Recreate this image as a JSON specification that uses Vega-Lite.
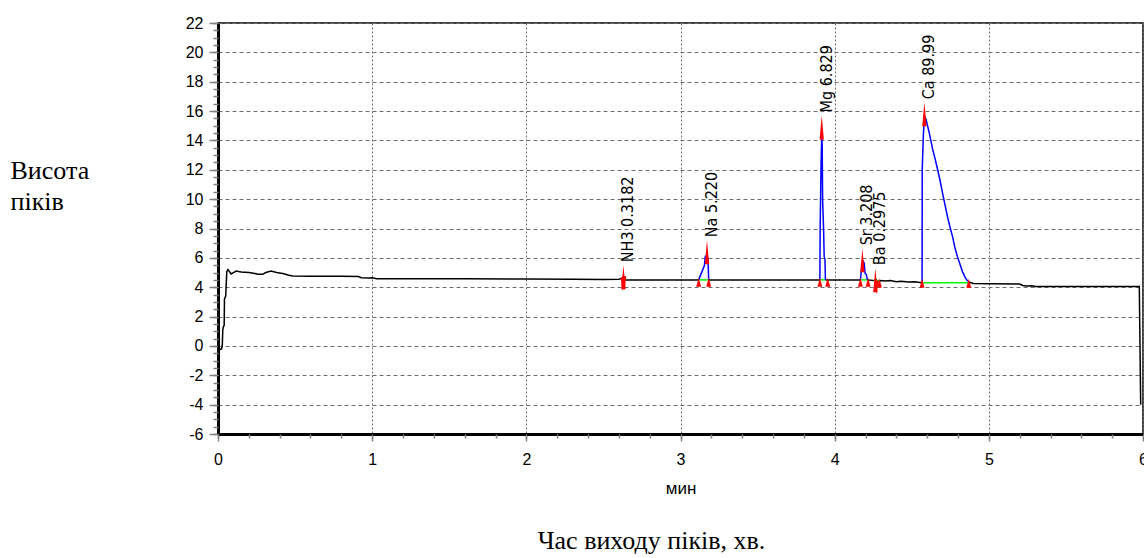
{
  "$schema": "https://vega.github.io/schema/vega-lite/v6.json",
  "width": 925,
  "height": 411,
  "autosize": {"type": "none"},
  "padding": {"left": 218, "top": 23, "right": 1, "bottom": 124},
  "background": "white",
  "config": {
    "view": {"stroke": "black", "strokeWidth": 1.5},
    "axis": {"labelFont": "Liberation Sans", "titleFont": "Liberation Sans", "labelColor": "black", "titleColor": "black"}
  },
  "title": {"text": "Час виходу піків, хв.", "orient": "bottom", "anchor": "middle", "frame": "group", "offset": 32, "dx": -29, "font": "Liberation Serif", "fontSize": 26, "fontWeight": "normal", "color": "black"},
  "datasets": {
    "trace": [
      {"seg": "b0", "kind": "base", "t": 0, "v": 0.05},
      {"seg": "b0", "kind": "base", "t": 0.008, "v": -0.15},
      {"seg": "b0", "kind": "base", "t": 0.016, "v": -0.25},
      {"seg": "b0", "kind": "base", "t": 0.024, "v": -0.2},
      {"seg": "b0", "kind": "base", "t": 0.028, "v": 0.1},
      {"seg": "b0", "kind": "base", "t": 0.031, "v": 1.1},
      {"seg": "b0", "kind": "base", "t": 0.035, "v": 1.3},
      {"seg": "b0", "kind": "base", "t": 0.04, "v": 1.4},
      {"seg": "b0", "kind": "base", "t": 0.042, "v": 3.2},
      {"seg": "b0", "kind": "base", "t": 0.05, "v": 3.4},
      {"seg": "b0", "kind": "base", "t": 0.057, "v": 5.05},
      {"seg": "b0", "kind": "base", "t": 0.064, "v": 5.2},
      {"seg": "b0", "kind": "base", "t": 0.072, "v": 5.1},
      {"seg": "b0", "kind": "base", "t": 0.085, "v": 4.9},
      {"seg": "b0", "kind": "base", "t": 0.1, "v": 5.0},
      {"seg": "b0", "kind": "base", "t": 0.118, "v": 5.1},
      {"seg": "b0", "kind": "base", "t": 0.15, "v": 5.03},
      {"seg": "b0", "kind": "base", "t": 0.2, "v": 5.0},
      {"seg": "b0", "kind": "base", "t": 0.23, "v": 4.95},
      {"seg": "b0", "kind": "base", "t": 0.26, "v": 4.88},
      {"seg": "b0", "kind": "base", "t": 0.29, "v": 4.88},
      {"seg": "b0", "kind": "base", "t": 0.31, "v": 5.0},
      {"seg": "b0", "kind": "base", "t": 0.345, "v": 5.1},
      {"seg": "b0", "kind": "base", "t": 0.38, "v": 5.0},
      {"seg": "b0", "kind": "base", "t": 0.42, "v": 4.93},
      {"seg": "b0", "kind": "base", "t": 0.46, "v": 4.82},
      {"seg": "b0", "kind": "base", "t": 0.485, "v": 4.77},
      {"seg": "b0", "kind": "base", "t": 0.6, "v": 4.75},
      {"seg": "b0", "kind": "base", "t": 0.8, "v": 4.74},
      {"seg": "b0", "kind": "base", "t": 0.91, "v": 4.73},
      {"seg": "b0", "kind": "base", "t": 0.93, "v": 4.65},
      {"seg": "b0", "kind": "base", "t": 0.98, "v": 4.62},
      {"seg": "b0", "kind": "base", "t": 1.0, "v": 4.65},
      {"seg": "b0", "kind": "base", "t": 1.03, "v": 4.58},
      {"seg": "b0", "kind": "base", "t": 1.3, "v": 4.58},
      {"seg": "b0", "kind": "base", "t": 1.6, "v": 4.57},
      {"seg": "b0", "kind": "base", "t": 2.0, "v": 4.56},
      {"seg": "b0", "kind": "base", "t": 2.3, "v": 4.55},
      {"seg": "b0", "kind": "base", "t": 2.5, "v": 4.52},
      {"seg": "b0", "kind": "base", "t": 2.6, "v": 4.55},
      {"seg": "b0", "kind": "base", "t": 2.62, "v": 4.6},
      {"seg": "b0", "kind": "base", "t": 2.63, "v": 4.75},
      {"seg": "b0", "kind": "base", "t": 2.64, "v": 4.5},
      {"seg": "b0", "kind": "base", "t": 2.66, "v": 4.5},
      {"seg": "b0", "kind": "base", "t": 2.9, "v": 4.5},
      {"seg": "b0", "kind": "base", "t": 3.118, "v": 4.5},
      {"seg": "pNa", "kind": "peak", "t": 3.118, "v": 4.5},
      {"seg": "pNa", "kind": "peak", "t": 3.14, "v": 5.08},
      {"seg": "pNa", "kind": "peak", "t": 3.155, "v": 5.47},
      {"seg": "pNa", "kind": "peak", "t": 3.161, "v": 6.1},
      {"seg": "pNa", "kind": "peak", "t": 3.172, "v": 6.2},
      {"seg": "pNa", "kind": "peak", "t": 3.178, "v": 5.9},
      {"seg": "pNa", "kind": "peak", "t": 3.183, "v": 4.5},
      {"seg": "b1", "kind": "base", "t": 3.183, "v": 4.5},
      {"seg": "b1", "kind": "base", "t": 3.5, "v": 4.5},
      {"seg": "b1", "kind": "base", "t": 3.904, "v": 4.5},
      {"seg": "pMg", "kind": "peak", "t": 3.904, "v": 4.5},
      {"seg": "pMg", "kind": "peak", "t": 3.906, "v": 8.1},
      {"seg": "pMg", "kind": "peak", "t": 3.912, "v": 12.5},
      {"seg": "pMg", "kind": "peak", "t": 3.916, "v": 14.2},
      {"seg": "pMg", "kind": "peak", "t": 3.919, "v": 13.7},
      {"seg": "pMg", "kind": "peak", "t": 3.922, "v": 9.9},
      {"seg": "pMg", "kind": "peak", "t": 3.928, "v": 8.0},
      {"seg": "pMg", "kind": "peak", "t": 3.932, "v": 6.1},
      {"seg": "pMg", "kind": "peak", "t": 3.937, "v": 5.9},
      {"seg": "pMg", "kind": "peak", "t": 3.94, "v": 4.5},
      {"seg": "b2", "kind": "base", "t": 3.94, "v": 4.5},
      {"seg": "b2", "kind": "base", "t": 4.05, "v": 4.5},
      {"seg": "b2", "kind": "base", "t": 4.167, "v": 4.5},
      {"seg": "pSr", "kind": "peak", "t": 4.167, "v": 4.5},
      {"seg": "pSr", "kind": "peak", "t": 4.172, "v": 5.0},
      {"seg": "pSr", "kind": "peak", "t": 4.178, "v": 5.63},
      {"seg": "pSr", "kind": "peak", "t": 4.186, "v": 5.75},
      {"seg": "pSr", "kind": "peak", "t": 4.192, "v": 5.6},
      {"seg": "pSr", "kind": "peak", "t": 4.197, "v": 4.95},
      {"seg": "pSr", "kind": "peak", "t": 4.206, "v": 4.85},
      {"seg": "pSr", "kind": "peak", "t": 4.212, "v": 4.5},
      {"seg": "b3", "kind": "base", "t": 4.212, "v": 4.5},
      {"seg": "b3", "kind": "base", "t": 4.25, "v": 4.45},
      {"seg": "b3", "kind": "base", "t": 4.27, "v": 4.5},
      {"seg": "b3", "kind": "base", "t": 4.28, "v": 4.35},
      {"seg": "b3", "kind": "base", "t": 4.3, "v": 4.45},
      {"seg": "b3", "kind": "base", "t": 4.33, "v": 4.42},
      {"seg": "b3", "kind": "base", "t": 4.36, "v": 4.45},
      {"seg": "b3", "kind": "base", "t": 4.4, "v": 4.38},
      {"seg": "b3", "kind": "base", "t": 4.43, "v": 4.4},
      {"seg": "b3", "kind": "base", "t": 4.48, "v": 4.35},
      {"seg": "b3", "kind": "base", "t": 4.52, "v": 4.37},
      {"seg": "b3", "kind": "base", "t": 4.567, "v": 4.3},
      {"seg": "pCa", "kind": "peak", "t": 4.567, "v": 4.3},
      {"seg": "pCa", "kind": "peak", "t": 4.568, "v": 12.0},
      {"seg": "pCa", "kind": "peak", "t": 4.575, "v": 14.3},
      {"seg": "pCa", "kind": "peak", "t": 4.582, "v": 15.66},
      {"seg": "pCa", "kind": "peak", "t": 4.593, "v": 15.43},
      {"seg": "pCa", "kind": "peak", "t": 4.6, "v": 15.1},
      {"seg": "pCa", "kind": "peak", "t": 4.614, "v": 14.5},
      {"seg": "pCa", "kind": "peak", "t": 4.636, "v": 13.37},
      {"seg": "pCa", "kind": "peak", "t": 4.65, "v": 12.8},
      {"seg": "pCa", "kind": "peak", "t": 4.668, "v": 12.0},
      {"seg": "pCa", "kind": "peak", "t": 4.685, "v": 11.2},
      {"seg": "pCa", "kind": "peak", "t": 4.7, "v": 10.4},
      {"seg": "pCa", "kind": "peak", "t": 4.716, "v": 9.6},
      {"seg": "pCa", "kind": "peak", "t": 4.732, "v": 8.8},
      {"seg": "pCa", "kind": "peak", "t": 4.748, "v": 8.1},
      {"seg": "pCa", "kind": "peak", "t": 4.765, "v": 7.43},
      {"seg": "pCa", "kind": "peak", "t": 4.78, "v": 6.7},
      {"seg": "pCa", "kind": "peak", "t": 4.797, "v": 6.06},
      {"seg": "pCa", "kind": "peak", "t": 4.815, "v": 5.5},
      {"seg": "pCa", "kind": "peak", "t": 4.83, "v": 5.03},
      {"seg": "pCa", "kind": "peak", "t": 4.845, "v": 4.7},
      {"seg": "pCa", "kind": "peak", "t": 4.856, "v": 4.5},
      {"seg": "pCa", "kind": "peak", "t": 4.874, "v": 4.34},
      {"seg": "b4", "kind": "base", "t": 4.874, "v": 4.34},
      {"seg": "b4", "kind": "base", "t": 4.9, "v": 4.25},
      {"seg": "b4", "kind": "base", "t": 5.0, "v": 4.23},
      {"seg": "b4", "kind": "base", "t": 5.2, "v": 4.22},
      {"seg": "b4", "kind": "base", "t": 5.22, "v": 4.12},
      {"seg": "b4", "kind": "base", "t": 5.25, "v": 4.08},
      {"seg": "b4", "kind": "base", "t": 5.28, "v": 4.1},
      {"seg": "b4", "kind": "base", "t": 5.3, "v": 4.05},
      {"seg": "b4", "kind": "base", "t": 5.6, "v": 4.05},
      {"seg": "b4", "kind": "base", "t": 5.976, "v": 4.05},
      {"seg": "b4", "kind": "base", "t": 5.985, "v": -4.0},
      {"seg": "gNH3", "kind": "fit", "t": 2.615, "v": 4.55},
      {"seg": "gNH3", "kind": "fit", "t": 2.645, "v": 4.55},
      {"seg": "gNa", "kind": "fit", "t": 3.118, "v": 4.5},
      {"seg": "gNa", "kind": "fit", "t": 3.183, "v": 4.5},
      {"seg": "gMg", "kind": "fit", "t": 3.904, "v": 4.5},
      {"seg": "gMg", "kind": "fit", "t": 3.94, "v": 4.5},
      {"seg": "gSr", "kind": "fit", "t": 4.167, "v": 4.5},
      {"seg": "gSr", "kind": "fit", "t": 4.217, "v": 4.5},
      {"seg": "gBa", "kind": "fit", "t": 4.255, "v": 4.45},
      {"seg": "gBa", "kind": "fit", "t": 4.29, "v": 4.45},
      {"seg": "gCa", "kind": "fit", "t": 4.567, "v": 4.3},
      {"seg": "gCa", "kind": "fit", "t": 4.87, "v": 4.3}
    ],
    "marks": [
      {"kind": "apex", "t": 2.63, "tip": 5.5, "label": "NH3 0.3182"},
      {"kind": "apex", "t": 3.172, "tip": 7.2, "label": "Na 5.220"},
      {"kind": "apex", "t": 3.916, "tip": 15.7, "label": "Mg 6.829"},
      {"kind": "apex", "t": 4.18, "tip": 6.65, "label": "Sr 3.208"},
      {"kind": "apex", "t": 4.264, "tip": 5.3, "label": "Ba 0.2975"},
      {"kind": "apex", "t": 4.582, "tip": 16.6, "label": "Ca 89.99"},
      {"kind": "bound", "t": 3.118, "tip": 4.65},
      {"kind": "bound", "t": 3.183, "tip": 4.65},
      {"kind": "bound", "t": 3.904, "tip": 4.65},
      {"kind": "bound", "t": 3.955, "tip": 4.65},
      {"kind": "bound", "t": 4.167, "tip": 4.65},
      {"kind": "bound", "t": 4.217, "tip": 4.65},
      {"kind": "bound", "t": 4.29, "tip": 4.6},
      {"kind": "bound", "t": 4.567, "tip": 4.57},
      {"kind": "bound", "t": 4.87, "tip": 4.57},
      {"kind": "dip", "t": 2.622, "tip": 3.7},
      {"kind": "dip", "t": 2.638, "tip": 3.8},
      {"kind": "dip", "t": 4.273, "tip": 3.5}
    ]
  },
  "resolve": {"axis": {"x": "independent", "y": "independent"}},
  "layer": [
    {
      "data": {"name": "trace"},
      "transform": [{"filter": "datum.kind === 'base'"}],
      "mark": {"type": "line", "color": "black", "strokeWidth": 1.5},
      "encoding": {
        "x": {"field": "t", "type": "quantitative", "scale": {"domain": [0, 6], "nice": false, "zero": false},
          "axis": {"orient": "bottom", "tickCount": 6, "format": "d", "labelFontSize": 16, "labelPadding": 10, "labelFlush": false, "tickSize": 7, "tickColor": "#808080", "tickWidth": 1.5, "domainColor": "black", "domainWidth": 3, "grid": true, "gridColor": "#6e6e6e", "gridDash": [2, 2], "gridWidth": 1, "title": "мин", "titleFontSize": 17, "titleFontWeight": "normal", "titleY": 54, "titleBaseline": "middle"}},
        "y": {"field": "v", "type": "quantitative", "scale": {"domain": [-6, 22], "nice": false, "zero": false},
          "axis": {"orient": "left", "tickCount": 14, "labelExpr": "replace(datum.label, '\u2212', '-')", "labelFontSize": 16, "labelPadding": 6, "tickSize": 9, "tickColor": "#808080", "tickWidth": 1.5, "domainColor": "black", "domainWidth": 3, "grid": true, "gridColor": "#6e6e6e", "gridDash": [4, 3], "gridWidth": 1, "title": ["Висота", "піків"], "titleAngle": 0, "titleAlign": "left", "titleBaseline": "alphabetic", "titleX": -208, "titleY": 155, "titleFont": "Liberation Serif", "titleFontSize": 26, "titleFontWeight": "normal", "titleLineHeight": 31}},
        "detail": {"field": "seg"}
      }
    },
    {
      "data": {"name": "trace"},
      "transform": [{"filter": "datum.kind === 'fit'"}],
      "mark": {"type": "line", "color": "#00ff00", "strokeWidth": 1.5},
      "encoding": {
        "x": {"field": "t", "type": "quantitative", "axis": {"orient": "bottom", "tickCount": 24, "labels": false, "grid": false, "domain": false, "tickSize": 4, "tickColor": "#808080", "tickWidth": 1.5, "title": null}},
        "y": {"field": "v", "type": "quantitative", "axis": {"orient": "left", "tickCount": 56, "labels": false, "grid": false, "domain": false, "tickSize": 5, "tickColor": "#808080", "tickWidth": 1.5, "title": null}},
        "detail": {"field": "seg"}
      }
    },
    {
      "data": {"name": "trace"},
      "transform": [{"filter": "datum.kind === 'peak'"}],
      "mark": {"type": "line", "color": "#0000ff", "strokeWidth": 1.5},
      "encoding": {
        "x": {"field": "t", "type": "quantitative", "axis": null},
        "y": {"field": "v", "type": "quantitative", "axis": null},
        "detail": {"field": "seg"}
      }
    },
    {
      "data": {"name": "marks"},
      "transform": [{"filter": "datum.kind === 'apex'"}],
      "mark": {"type": "point", "filled": true, "color": "red", "opacity": 1, "strokeWidth": 0, "shape": "M0,0L0.18,2L-0.18,2Z", "size": 576},
      "encoding": {
        "x": {"field": "t", "type": "quantitative", "axis": null},
        "y": {"field": "tip", "type": "quantitative", "axis": null}
      }
    },
    {
      "data": {"name": "marks"},
      "transform": [{"filter": "datum.kind === 'bound'"}],
      "mark": {"type": "point", "filled": true, "color": "red", "opacity": 1, "strokeWidth": 0, "shape": "M0,0L0.55,2L-0.55,2Z", "size": 81},
      "encoding": {
        "x": {"field": "t", "type": "quantitative", "axis": null},
        "y": {"field": "tip", "type": "quantitative", "axis": null}
      }
    },
    {
      "data": {"name": "marks"},
      "transform": [{"filter": "datum.kind === 'dip'"}],
      "mark": {"type": "point", "filled": true, "color": "red", "opacity": 1, "strokeWidth": 0, "shape": "M0,0L0.22,-2L-0.22,-2Z", "size": 196},
      "encoding": {
        "x": {"field": "t", "type": "quantitative", "axis": null},
        "y": {"field": "tip", "type": "quantitative", "axis": null}
      }
    },
    {
      "data": {"name": "marks"},
      "transform": [{"filter": "datum.kind === 'apex'"}],
      "mark": {"type": "text", "angle": 270, "align": "left", "baseline": "middle", "dx": 3, "dy": 5, "font": "Liberation Sans Narrow, DejaVu Sans Condensed, sans-serif", "fontSize": 16, "color": "black"},
      "encoding": {
        "x": {"field": "t", "type": "quantitative", "axis": null},
        "y": {"field": "tip", "type": "quantitative", "axis": null},
        "text": {"field": "label"}
      }
    }
  ]
}
